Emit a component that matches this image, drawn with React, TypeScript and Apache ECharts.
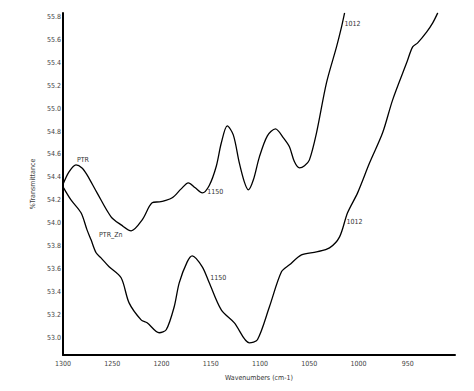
import React, { useEffect, useRef } from "react";
import * as echarts from "echarts";

const ptrX = [1300, 1293.9, 1286.8, 1280.7, 1275.6, 1265.4, 1251.2, 1241.0, 1230.8, 1219.6, 1209.5, 1202.3, 1197.3, 1189.1, 1180.0, 1172.8, 1165.7, 1158.6, 1151.5, 1144.3, 1139.3, 1133.2, 1127.1, 1121.0, 1115.9, 1111.8, 1106.7, 1100.6, 1092.5, 1084.3, 1076.2, 1070.1, 1065.0, 1059.9, 1054.8, 1049.8, 1042.6, 1032.5, 1022.3, 1017.2, 1014.1];
const ptrY = [54.34, 54.449, 54.51, 54.483, 54.422, 54.265, 54.056, 53.986, 53.934, 54.03, 54.178, 54.187, 54.196, 54.222, 54.3, 54.353, 54.309, 54.265, 54.33, 54.5, 54.7, 54.85, 54.771, 54.527, 54.361, 54.291, 54.379, 54.579, 54.763, 54.824, 54.745, 54.667, 54.536, 54.483, 54.501, 54.553, 54.789, 55.225, 55.539, 55.714, 55.836];

const znX = [1300, 1291.9, 1281.7, 1275.6, 1271.5, 1266.4, 1261.4, 1253.2, 1241.0, 1232.9, 1220.7, 1214.6, 1202.3, 1195.2, 1187.1, 1182.0, 1173.9, 1168.8, 1158.6, 1151.5, 1139.3, 1126.0, 1110.8, 1102.6, 1090.4, 1078.2, 1070.1, 1057.9, 1042.6, 1029.4, 1019.2, 1011.1, 1000.9, 988.7, 975.5, 965.3, 951.1, 945.0, 939.9, 930.7, 924.6, 919.5];
const znY = [54.318, 54.204, 54.091, 53.942, 53.855, 53.742, 53.698, 53.62, 53.524, 53.305, 53.157, 53.131, 53.044, 53.07, 53.271, 53.48, 53.663, 53.716, 53.62, 53.48, 53.244, 53.131, 52.956, 52.983, 53.271, 53.576, 53.637, 53.724, 53.75, 53.785, 53.881, 54.091, 54.265, 54.527, 54.789, 55.077, 55.4, 55.539, 55.574, 55.67, 55.749, 55.836];

const xTicks = [1300, 1250, 1200, 1150, 1100, 1050, 1000, 950];
const yTicks = [53.0, 53.2, 53.4, 53.6, 53.8, 54.0, 54.2, 54.4, 54.6, 54.8, 55.0, 55.2, 55.4, 55.6, 55.8];

// annotations: [text, x, y]
const ptrNotes: [string, number, number][] = [
  ["PTR", 1279.7, 54.553],
  ["1150", 1153.5, 54.274],
  ["1012", 1014.1, 55.74],
];
const znNotes: [string, number, number][] = [
  ["PTR_Zn", 1263.4, 53.899],
  ["1150", 1150.5, 53.524],
  ["1012", 1012.1, 54.012],
];

const FONT = "'DejaVu Sans Condensed', 'Liberation Sans Narrow', 'Liberation Sans', Arial, sans-serif";

function notes(list: [string, number, number][], centerFirst: boolean) {
  return list.map((n, i) => ({
    coord: [n[1], n[2]],
    symbol: "circle",
    symbolSize: 1,
    itemStyle: { color: "rgba(0,0,0,0)" },
    label: {
      show: true,
      formatter: n[0],
      position: "inside",
      align: centerFirst && i === 0 ? "center" : "left",
      verticalAlign: "middle",
      color: "#333",
      fontSize: 7,
      fontFamily: FONT,
    },
  }));
}

export default function App() {
  const ref = useRef<HTMLDivElement>(null);
  useEffect(() => {
    document.body.style.margin = "0";
    const chart = echarts.init(ref.current!, undefined, { renderer: "svg" });
    const mk = (xs: number[], ys: number[]) => xs.map((x, i) => [x, ys[i]]);
    chart.setOption({
      animation: false,
      backgroundColor: "#fff",
      grid: { left: 63, right: 19, top: 13, bottom: 36, containLabel: false },
      xAxis: {
        type: "value",
        inverse: true,
        min: 902,
        max: 1300,
        name: "Wavenumbers (cm-1)",
        nameLocation: "middle",
        nameGap: 19,
        nameTextStyle: { fontSize: 7, color: "#333", fontFamily: FONT },
        axisLine: { lineStyle: { color: "#000", width: 2 } },
        axisTick: { show: false },
        splitLine: { show: false },
        axisLabel: {
          customValues: xTicks,
          margin: 5,
          fontSize: 7,
          color: "#444",
          fontFamily: FONT,
          formatter: (v: number) => String(v),
        },
      },
      yAxis: {
        type: "value",
        min: 52.85,
        max: 55.835,
        name: "%Transmittance",
        nameLocation: "middle",
        nameRotate: 90,
        nameGap: 19,
        nameTextStyle: { fontSize: 7, color: "#444", fontFamily: FONT },
        axisLine: { show: true, lineStyle: { color: "#000", width: 2 } },
        axisTick: { show: false },
        splitLine: { show: false },
        axisLabel: {
          customValues: yTicks,
          margin: 2,
          fontSize: 7,
          color: "#444",
          fontFamily: FONT,
          formatter: (v: number) => v.toFixed(1),
        },
      },
      series: [
        {
          name: "PTR",
          type: "line",
          data: mk(ptrX, ptrY),
          smooth: 0.3,
          showSymbol: false,
          lineStyle: { color: "#000", width: 1.3 },
          markPoint: { data: notes(ptrNotes, true) },
        },
        {
          name: "PTR_Zn",
          type: "line",
          data: mk(znX, znY),
          smooth: 0.3,
          showSymbol: false,
          lineStyle: { color: "#000", width: 1.3 },
          markPoint: { data: notes(znNotes, false) },
        },
      ],
    });
    return () => chart.dispose();
  }, []);
  return <div ref={ref} style={{ width: 474, height: 391 }} />;
}
